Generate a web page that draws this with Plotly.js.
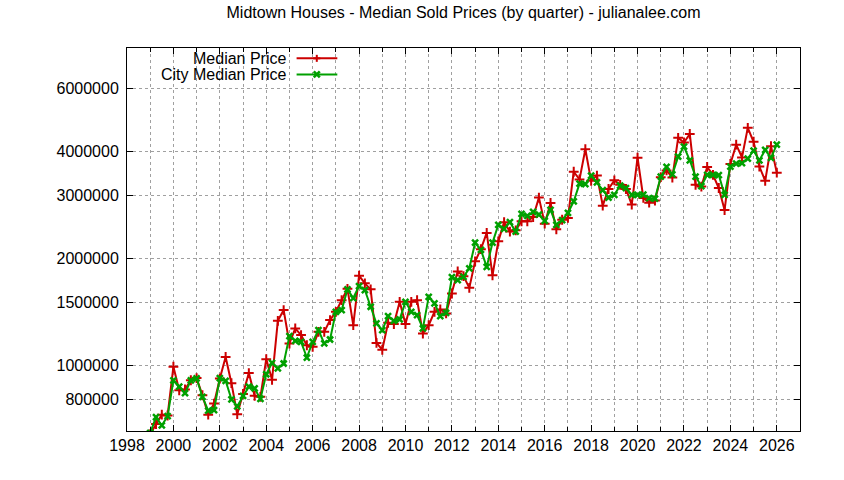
<!DOCTYPE html>
<html>
<head>
<meta charset="utf-8">
<script src="https://cdn.plot.ly/plotly-3.0.1.min.js"></script>
<style>
  html, body { margin: 0; padding: 0; background: #ffffff; }
  #chart { width: 844px; height: 480px; }
</style>
</head>
<body>
<div id="chart"></div>
<script>
// Quarter positions (decimal years), 1999 Q1 .. 2026 Q1
const quarters = [
  1999.00, 1999.25, 1999.50, 1999.75, 2000.00, 2000.25, 2000.50, 2000.75,
  2001.00, 2001.25, 2001.50, 2001.75, 2002.00, 2002.25, 2002.50, 2002.75,
  2003.00, 2003.25, 2003.50, 2003.75, 2004.00, 2004.25, 2004.50, 2004.75,
  2005.00, 2005.25, 2005.50, 2005.75, 2006.00, 2006.25, 2006.50, 2006.75,
  2007.00, 2007.25, 2007.50, 2007.75, 2008.00, 2008.25, 2008.50, 2008.75,
  2009.00, 2009.25, 2009.50, 2009.75, 2010.00, 2010.25, 2010.50, 2010.75,
  2011.00, 2011.25, 2011.50, 2011.75, 2012.00, 2012.25, 2012.50, 2012.75,
  2013.00, 2013.25, 2013.50, 2013.75, 2014.00, 2014.25, 2014.50, 2014.75,
  2015.00, 2015.25, 2015.50, 2015.75, 2016.00, 2016.25, 2016.50, 2016.75,
  2017.00, 2017.25, 2017.50, 2017.75, 2018.00, 2018.25, 2018.50, 2018.75,
  2019.00, 2019.25, 2019.50, 2019.75, 2020.00, 2020.25, 2020.50, 2020.75,
  2021.00, 2021.25, 2021.50, 2021.75, 2022.00, 2022.25, 2022.50, 2022.75,
  2023.00, 2023.25, 2023.50, 2023.75, 2024.00, 2024.25, 2024.50, 2024.75,
  2025.00, 2025.25, 2025.50, 2025.75, 2026.00
];

const medianPrice = [
  640000, 683000, 726000, 722000, 990000, 850000, 855000, 907000,
  920000, 823000, 726000, 780000, 917000, 1055000, 890000, 728000,
  830000, 950000, 820000, 815000, 1040000, 910000, 1333000, 1429000,
  1151000, 1269000, 1215000, 1138000, 1126000, 1241000, 1241000, 1339000,
  1413000, 1524000, 1640000, 1296000, 1785000, 1699000, 1634000, 1155000,
  1105000, 1316000, 1305000, 1507000, 1305000, 1507000, 1524000, 1228000,
  1296000, 1413000, 1435000, 1398000, 1590000, 1835000, 1780000, 1650000,
  1960000, 2120000, 2355000, 1790000, 2230000, 2525000, 2375000, 2395000,
  2540000, 2540000, 2610000, 2960000, 2500000, 2860000, 2410000, 2565000,
  2595000, 3500000, 3330000, 4050000, 3300000, 3415000, 2810000, 3130000,
  3310000, 3215000, 3130000, 2830000, 3835000, 2955000, 2865000, 2905000,
  3380000, 3530000, 3370000, 4360000, 4230000, 4470000, 3215000, 3180000,
  3610000, 3430000, 3150000, 2730000, 3680000, 4170000, 3840000, 4650000,
  4250000, 3620000, 3300000, 4130000, 3480000
];

const cityMedianPrice = [
  645000, 714000, 677000, 719000, 907000, 870000, 834000, 907000,
  918000, 815000, 745000, 747000, 920000, 904000, 802000, 766000,
  820000, 870000, 860000, 804000, 943000, 1015000, 979000, 1011000,
  1207000, 1171000, 1163000, 1051000, 1163000, 1255000, 1151000, 1181000,
  1413000, 1429000, 1634000, 1545000, 1669000, 1627000, 1460000, 1310000,
  1255000, 1374000, 1333000, 1345000, 1507000, 1413000, 1383000, 1269000,
  1557000, 1492000, 1374000, 1404000, 1770000, 1736000, 1772000, 1873000,
  2210000, 2110000, 1890000, 2210000, 2480000, 2418000, 2525000, 2375000,
  2665000, 2630000, 2700000, 2653000, 2545000, 2735000, 2480000, 2560000,
  2680000, 2890000, 3240000, 3230000, 3415000, 3265000, 3105000, 2960000,
  3013000, 3200000, 3150000, 3013000, 3013000, 3020000, 2950000, 2940000,
  3390000, 3610000, 3440000, 3860000, 4120000, 3770000, 3390000, 3190000,
  3430000, 3430000, 3425000, 3013000, 3620000, 3690000, 3700000, 3810000,
  4010000, 3770000, 4030000, 3830000, 4170000
];

const yTickVals = [800000, 1000000, 1500000, 2000000, 3000000, 4000000, 6000000];
const yTickText = ["800000", "1000000", "1500000", "2000000", "3000000", "4000000", "6000000"];
const xTickVals = [1998, 2000, 2002, 2004, 2006, 2008, 2010, 2012, 2014, 2016, 2018, 2020, 2022, 2024, 2026];
const xTickText = ["1998", "2000", "2002", "2004", "2006", "2008", "2010", "2012", "2014", "2016", "2018", "2020", "2022", "2024", "2026"];

const seriesNames = ["Median Price", "City Median Price"];
const RED = "#cc0000";
const GREEN = "#00a000";
const FONT = "Liberation Sans, Arial, sans-serif";

const traces = [
  {
    x: quarters, y: medianPrice, name: seriesNames[0],
    type: "scatter", mode: "lines+markers",
    line: { color: RED, width: 2 },
    marker: { symbol: "cross-thin", size: 7, color: RED, line: { color: RED, width: 2 } },
    cliponaxis: true
  },
  {
    x: quarters, y: cityMedianPrice, name: seriesNames[1],
    type: "scatter", mode: "lines+markers",
    line: { color: GREEN, width: 2 },
    marker: { symbol: "x-thin", size: 6, color: GREEN, line: { color: GREEN, width: 2.5 } },
    cliponaxis: true
  }
];

// custom gnuplot-style legend (text right-aligned, sample on the right)
const legRows = [0.973, 0.931];
const legColors = [RED, GREEN];
const shapes = [];
const annotations = [];
for (let k = 0; k < 2; k++) {
  annotations.push({
    xref: "paper", yref: "paper", x: 0.239, y: legRows[k],
    xanchor: "right", yanchor: "middle", showarrow: false,
    text: seriesNames[k], font: { family: FONT, size: 16, color: "#000" }
  });
  shapes.push({
    type: "line", xref: "paper", yref: "paper",
    x0: 0.252, x1: 0.3125, y0: legRows[k], y1: legRows[k],
    line: { color: legColors[k], width: 2 }
  });
  const d = k === 0 ? [[-3.5, 0, 3.5, 0], [0, -3.5, 0, 3.5]] : [[-3, -3, 3, 3], [-3, 3, 3, -3]];
  d.forEach(s => shapes.push({
    type: "line", xref: "paper", yref: "paper",
    xsizemode: "pixel", ysizemode: "pixel",
    xanchor: 0.282, yanchor: legRows[k],
    x0: s[0], y0: s[1], x1: s[2], y1: s[3],
    line: { color: legColors[k], width: k === 0 ? 2 : 2.5 }
  }));
}

const layout = {
  width: 844, height: 480,
  paper_bgcolor: "#ffffff", plot_bgcolor: "#ffffff",
  margin: { l: 127, r: 44, t: 48, b: 49, pad: 0 },
  showlegend: false,
  font: { family: FONT, size: 16, color: "#000" },
  title: {
    text: "Midtown Houses - Median Sold Prices (by quarter) - julianalee.com",
    font: { family: FONT, size: 16, color: "#000" },
    x: 0.5, xanchor: "center", xref: "paper",
    y: 0.975, yanchor: "middle", yref: "container"
  },
  xaxis: {
    type: "linear", range: [1998, 2027],
    tickmode: "array", tickvals: xTickVals, ticktext: xTickText,
    ticks: "inside", ticklen: 6, tickcolor: "#000", tickwidth: 1,
    showline: true, linecolor: "#000", linewidth: 1, mirror: "allticks",
    showgrid: true, gridcolor: "#a0a0a0", griddash: "dot", gridwidth: 1,
    minor: { dtick: 1, tick0: 1998, ticks: "inside", ticklen: 4, tickcolor: "#000",
             showgrid: true, gridcolor: "#a0a0a0", griddash: "dot", gridwidth: 1 },
    zeroline: false, fixedrange: true,
    tickfont: { family: FONT, size: 16, color: "#000" }
  },
  yaxis: {
    type: "log", range: [Math.log10(653000), Math.log10(7800000)],
    tickmode: "array", tickvals: yTickVals, ticktext: yTickText,
    ticks: "inside", ticklen: 6, tickcolor: "#000", tickwidth: 1,
    showline: true, linecolor: "#000", linewidth: 1, mirror: "allticks",
    showgrid: true, gridcolor: "#a0a0a0", griddash: "dot", gridwidth: 1,
    zeroline: false, fixedrange: true, ticklabelstandoff: 4,
    tickfont: { family: FONT, size: 16, color: "#000" }
  },
  shapes: shapes,
  annotations: annotations
};

Plotly.newPlot("chart", traces, layout, { staticPlot: true, displayModeBar: false });
</script>
</body>
</html>
